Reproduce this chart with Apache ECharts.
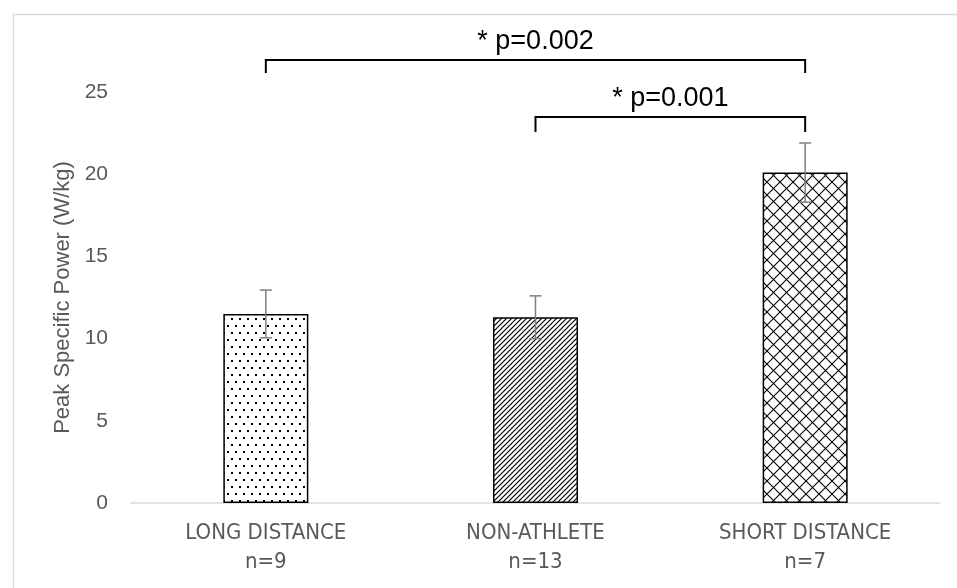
<!DOCTYPE html>
<html><head><meta charset="utf-8">
<script src="https://cdn.jsdelivr.net/npm/echarts@6/dist/echarts.min.js"></script>
<style>html,body{margin:0;padding:0;background:#fff}#c{width:957px;height:588px}</style>
</head><body><div id="c"></div>
<script>
const categories = ['LONG DISTANCE\nn=9', 'NON-ATHLETE\nn=13', 'SHORT DISTANCE\nn=7'];
const means = [11.5, 11.3, 20.1];
const errors = [1.45, 1.3, 1.8];
const yTicks = [0, 5, 10, 15, 20, 25];
const brackets = [ // [fromIndex, toIndex, topValue, footValue, label]
  [0, 2, 26.95, 26.15, '* p=0.002'],
  [1, 2, 23.48, 22.57, '* p=0.001']
];

function makeTile(w, h, draw) {
  const c = document.createElement('canvas');
  c.width = w; c.height = h;
  const g = c.getContext('2d');
  g.fillStyle = '#fff'; g.fillRect(0, 0, w, h);
  draw(g);
  return c;
}
const dots = makeTile(8, 14, g => { g.fillStyle = '#000'; g.fillRect(3, 3, 2, 2); g.fillRect(7, 10, 2, 2); g.fillRect(-1, 10, 2, 2); });
const hatch = makeTile(5, 5, g => {
  g.strokeStyle = '#000'; g.lineWidth = 1.2;
  for (const o of [-5, 0, 5]) { g.beginPath(); g.moveTo(o - 1, 6); g.lineTo(o + 6, -1); g.stroke(); }
});
const cross = makeTile(13, 13, g => {
  g.strokeStyle = '#000'; g.lineWidth = 1.1;
  g.beginPath(); g.moveTo(0, 0); g.lineTo(13, 13); g.stroke();
  g.beginPath(); g.moveTo(13, 0); g.lineTo(0, 13); g.stroke();
});
const patterns = [dots, hatch, cross];
const sans = "'Liberation Sans', Arial, sans-serif";
const narrow = "'Liberation Sans Narrow', 'DejaVu Sans Condensed', sans-serif";

const chart = echarts.init(document.getElementById('c'), null, {renderer: 'canvas'});
chart.setOption({
  animation: false,
  backgroundColor: '#fff',
  graphic: [{
    type: 'rect', left: 11, top: 12, silent: true, z: -10,
    shape: {width: 1000, height: 1000},
    style: {fill: 'none', stroke: '#d9d9d9', lineWidth: 1.5}
  }],
  grid: {left: 131, right: 17, top: 92, bottom: 85},
  xAxis: {
    type: 'category', data: categories,
    axisLine: {lineStyle: {color: '#d9d9d9', width: 1.5}},
    axisTick: {show: false},
    axisLabel: {color: '#595959', fontSize: 22, lineHeight: 29, margin: 16, fontFamily: narrow}
  },
  yAxis: {
    type: 'value', min: yTicks[0], max: yTicks[yTicks.length - 1], interval: 5,
    name: 'Peak Specific Power (W/kg)', nameLocation: 'middle', nameGap: 51,
    nameTextStyle: {color: '#595959', fontSize: 22, fontFamily: sans},
    axisLine: {show: false}, axisTick: {show: false}, splitLine: {show: false},
    axisLabel: {color: '#595959', fontSize: 21, margin: 23, fontFamily: sans}
  },
  series: [{
    type: 'bar', barWidth: 85,
    data: means.map((v, i) => ({
      value: v,
      itemStyle: {color: {image: patterns[i], repeat: 'repeat'}, borderColor: '#000', borderWidth: 1.5}
    }))
  }, {
    type: 'custom', z: 5,
    data: means.map((v, i) => [i, v - errors[i], v + errors[i]]),
    renderItem: (params, api) => {
      const lo = api.coord([api.value(0), api.value(1)]);
      const hi = api.coord([api.value(0), api.value(2)]);
      const hw = 6;
      const st = {stroke: '#7f7f7f', lineWidth: 1.5};
      return {type: 'group', children: [
        {type: 'line', shape: {x1: lo[0], y1: lo[1], x2: hi[0], y2: hi[1]}, style: st},
        {type: 'line', shape: {x1: lo[0] - hw, y1: lo[1], x2: lo[0] + hw, y2: lo[1]}, style: st},
        {type: 'line', shape: {x1: hi[0] - hw, y1: hi[1], x2: hi[0] + hw, y2: hi[1]}, style: st}
      ]};
    }
  }, {
    type: 'custom', z: 6, clip: false,
    data: brackets,
    renderItem: (params, api) => {
      const b = brackets[params.dataIndex];
      const a = api.coord([b[0], b[2]]);
      const c = api.coord([b[1], b[2]]);
      const af = api.coord([b[0], b[3]]);
      const cf = api.coord([b[1], b[3]]);
      const st = {fill: 'none', stroke: '#000', lineWidth: 2};
      return {type: 'group', children: [
        {type: 'polyline', shape: {points: [[af[0], af[1]], [a[0], a[1]], [c[0], c[1]], [cf[0], cf[1]]]}, style: st},
        {type: 'text', style: {text: b[4], x: (a[0] + c[0]) / 2, y: a[1] - 18, align: 'center', verticalAlign: 'middle',
          fill: '#000', fontSize: 27, fontFamily: sans}}
      ]};
    }
  }]
});
</script></body></html>
